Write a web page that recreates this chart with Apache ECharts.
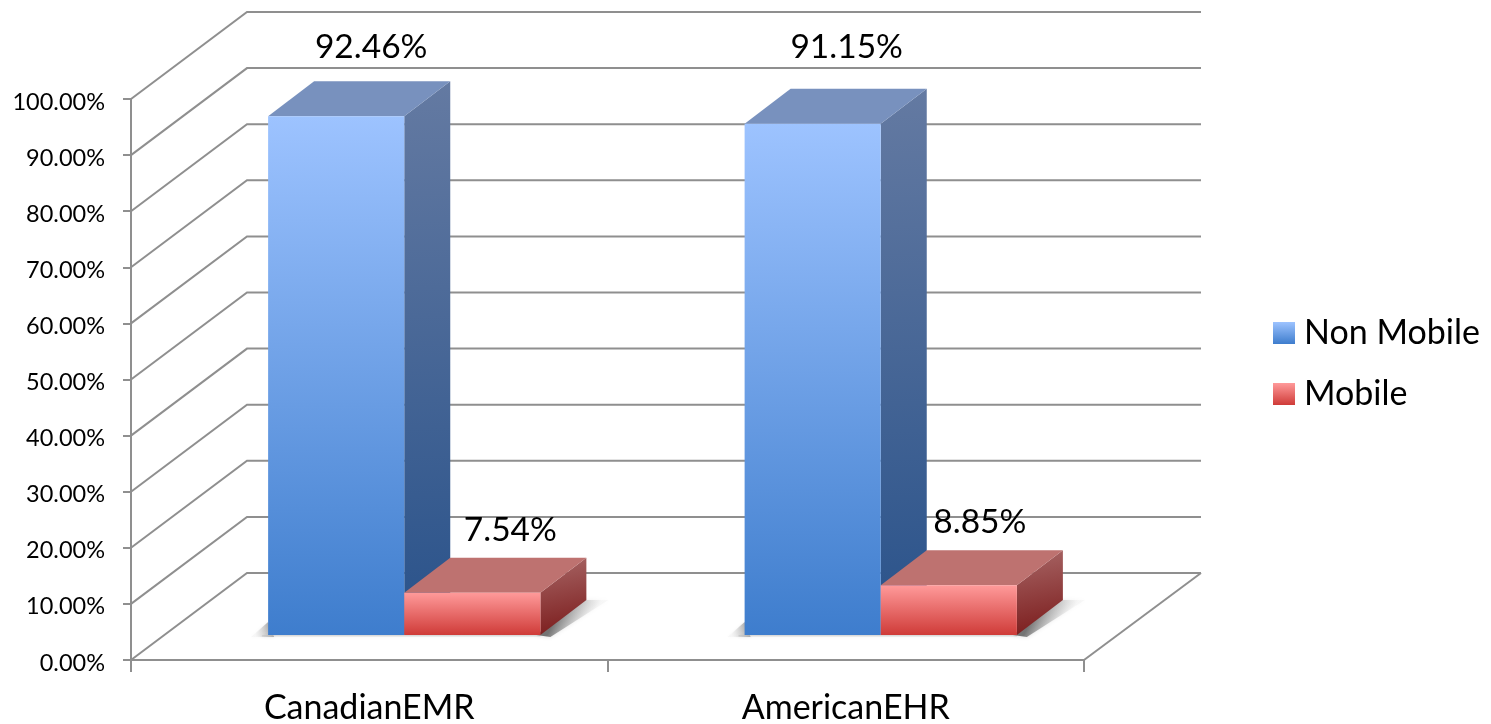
<!DOCTYPE html>
<html>
<head>
<meta charset="utf-8">
<style>html,body{margin:0;padding:0;background:#fff}#c{width:1491px;height:724px}</style>
<script src="https://cdn.jsdelivr.net/npm/echarts@6/dist/echarts.min.js"></script>
</head>
<body>
<div id="c"></div>
<script>
const categories = ['CanadianEMR', 'AmericanEHR'];
const nonMobile = [92.46, 91.15];
const mobile = [7.54, 8.85];
const wallTicks = [0, 10, 20, 30, 40, 50, 60, 70, 80, 90, 100];

const FONT = 'Lato, "Open Sans", sans-serif';
const AXIS = '#8f8f8f';
const WALL = {dx: 116, dy: -87, endDx: 117};
const BAR = {front: {dx: 35, dy: -25}, depth: {dx: 46, dy: -35}, bandShare: 0.2857};
const G = echarts.graphic.LinearGradient;
const vert = (a, b) => new G(0, 0, 0, 1, [{offset: 0, color: a}, {offset: 1, color: b}]);
const tilt = (a, b) => new G(0, 0, 0.35, 1, [{offset: 0, color: a}, {offset: 1, color: b}]);

const skins = {
  blue: {
    front: vert('#9dc3ff', '#3e7dcd'),
    top: '#7891be',
    side: tilt('#647aa2', '#29528a')
  },
  red: {
    front: vert('#ff9a9a', '#cf3b38'),
    top: '#be7270',
    side: tilt('#a86666', '#7c1e1e')
  }
};
// hand placed label offsets from the back-top edge centre of each bar
const labelNudge = {
  blue: [{x: -11, y: -34}, {x: -12, y: -41}],
  red: [{x: -8, y: -27}, {x: -15, y: -28}]
};

function poly(points, fill) {
  return {type: 'polygon', shape: {points}, style: {fill, stroke: null}};
}

function barRenderer(skinName, side) {
  return function (params, api) {
    const cat = api.value(0), val = api.value(1);
    const skin = skins[skinName];
    const band = api.size([1, 0])[0];
    const w = band * BAR.bandShare;
    const c = api.coord([cat, val]);
    const b = api.coord([cat, 0]);
    const cx = c[0] + BAR.front.dx;
    const l = side < 0 ? cx - w : cx;
    const r = l + w;
    const top = c[1] + BAR.front.dy;
    const bot = b[1] + BAR.front.dy;
    const dx = BAR.depth.dx, dy = BAR.depth.dy;
    const kids = [];
    if (side > 0) {
      // soft floor shadow cast to the right of the bar
      kids.push({
        type: 'polygon',
        shape: {points: [[r - 4, bot], [r + dx - 6, bot + dy], [r + dx + 22, bot + dy], [r + 10, bot + 2]]},
        style: {
          fill: new G(0.3, 0.35, 0.72, 0.75, [
            {offset: 0, color: 'rgba(110,110,110,0.95)'},
            {offset: 1, color: 'rgba(215,215,215,0.15)'}
          ]),
          shadowBlur: 4,
          shadowColor: 'rgba(190,190,190,0.6)'
        }
      });
    } else {
      kids.push({
        type: 'polygon',
        shape: {points: [[l - 17, bot + 2], [l, bot - 13], [l + 6, bot + 2]]},
        style: {
          fill: new G(1, 0, 0.1, 0.4, [
            {offset: 0, color: 'rgba(120,120,120,0.95)'},
            {offset: 1, color: 'rgba(225,225,225,0.2)'}
          ]),
          shadowBlur: 3,
          shadowColor: 'rgba(200,200,200,0.5)'
        }
      });
      kids.push({
        type: 'rect',
        shape: {x: l - 6, y: bot, width: w * 2 + 6, height: 1.5},
        style: {fill: 'rgba(190,190,190,0.5)', shadowBlur: 3, shadowColor: 'rgba(190,190,190,0.6)'}
      });
    }
    kids.push(poly([[r, top], [r + dx, top + dy], [r + dx, bot + dy], [r, bot]], skin.side));
    kids.push(poly([[l, top], [r, top], [r + dx, top + dy], [l + dx, top + dy]], skin.top));
    kids.push({type: 'rect', shape: {x: l, y: top, width: w, height: bot - top}, style: {fill: skin.front}});
    const n = labelNudge[skinName][cat];
    kids.push({
      type: 'text',
      z2: 100,
      style: {
        x: (l + r) / 2 + dx + n.x,
        y: top + dy + n.y,
        text: val.toFixed(2) + '%',
        font: '33.5px ' + FONT,
        fill: '#000',
        align: 'center',
        verticalAlign: 'middle'
      }
    });
    return {type: 'group', children: kids};
  };
}

function wallRenderer(params, api) {
  const v = api.value(1);
  const sys = params.coordSys;
  const y = api.coord([0, v])[1];
  const left = sys.x, right = sys.x + sys.width;
  const lineStyle = {stroke: AXIS, lineWidth: 2, fill: null};
  const kids = [
    {type: 'polyline', shape: {points: [[left, y], [left + WALL.dx, y + WALL.dy], [right + WALL.endDx, y + WALL.dy]]}, style: lineStyle}
  ];
  if (v === 0) {
    kids.push({type: 'line', shape: {x1: right, y1: y, x2: right + WALL.endDx, y2: y + WALL.dy}, style: lineStyle});
  }
  return {type: 'group', children: kids};
}

const chart = echarts.init(document.getElementById('c'), null, {renderer: 'canvas'});
chart.setOption({
  animation: false,
  backgroundColor: '#fff',
  grid: {left: 131, right: 407, top: 99, bottom: 64, containLabel: false, outerBoundsMode: 'none'},
  legend: {
    orient: 'vertical',
    left: 1268,
    top: 311,
    itemWidth: 22,
    itemHeight: 22,
    itemGap: 27,
    icon: 'rect',
    data: ['Non Mobile', 'Mobile'],
    textStyle: {fontFamily: FONT, fontSize: 34, color: '#000', padding: [0, 0, 0, 4]}
  },
  xAxis: {
    type: 'category',
    data: categories,
    boundaryGap: true,
    axisLine: {lineStyle: {color: AXIS, width: 2}},
    axisTick: {show: true, length: 12, alignWithLabel: false, lineStyle: {color: AXIS, width: 2}},
    axisLabel: {fontFamily: FONT, fontSize: 34, color: '#000', margin: 31}
  },
  yAxis: {
    type: 'value',
    min: 0,
    max: 100,
    interval: 10,
    splitLine: {show: false},
    axisLine: {show: true, lineStyle: {color: AXIS, width: 2}},
    axisTick: {show: true, length: 8, lineStyle: {color: AXIS, width: 2}},
    axisLabel: {fontFamily: FONT, fontSize: 23.5, color: '#000', margin: 26, verticalAlign: 'top', lineHeight: 6, formatter: v => v.toFixed(2) + '%'}
  },
  series: [
    {
      name: 'wall', type: 'custom', z: 1, silent: true,
      renderItem: wallRenderer,
      encode: {x: 0, y: 1},
      data: wallTicks.map(t => [0, t])
    },
    {
      name: 'Non Mobile', type: 'custom', z: 3,
      itemStyle: {color: vert('#9dc3ff', '#3e7dcd')},
      renderItem: barRenderer('blue', -1),
      encode: {x: 0, y: 1},
      data: nonMobile.map((v, i) => [i, v])
    },
    {
      name: 'Mobile', type: 'custom', z: 4,
      itemStyle: {color: vert('#ff9a9a', '#cf3b38')},
      renderItem: barRenderer('red', 1),
      encode: {x: 0, y: 1},
      data: mobile.map((v, i) => [i, v])
    }
  ]
});
</script>
</body>
</html>
